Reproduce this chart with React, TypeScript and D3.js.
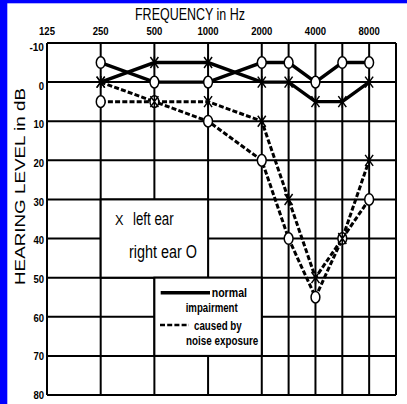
import React from 'react';
import * as d3 from 'd3';

const frequencies = [250, 500, 1000, 2000, 3000, 4000, 6000, 8000];
const leftNormal = [0, -5, -5, 0, 0, 5, 5, 0];
const rightNormal = [-5, 0, 0, -5, -5, 0, -5, -5];
const leftNoise = [0, 5, 5, 10, 30, 50, 40, 20];
const rightNoise = [5, 5, 10, 20, 40, 55, 40, 30];
const freqTickLabels = [125, 250, 500, 1000, 2000, 4000, 8000];
const gridFreqs = [125, 250, 500, 1000, 2000, 3000, 4000, 6000, 8000];
const dbTicks = [-10, 0, 10, 20, 30, 40, 50, 60, 70, 80];
const legendBoxes = [
  { f0: 250, f1: 1000, d0: 30, d1: 50 },
  { f0: 500, f1: 2000, d0: 50, d1: 70 },
];

const W = 407;
const H = 404;
const SANS = "'Liberation Sans', Arial, sans-serif";

const oct = (f: number) => Math.round(2 * Math.log2(f / 125)) / 2;
const numWidth = (s: string) => s.replace('-', '').length * 5.3 + (s.startsWith('-') ? 4 : 0);

export default function App() {
  const x = d3.scaleLinear().domain([0, 6.5]).range([47, 396]);
  const y = d3.scaleLinear().domain([-10, 80]).range([43, 395]);
  const yLab = d3.scaleLinear().domain([-10, 80]).range([47, 395]);

  const line = d3
    .line<[number, number]>()
    .x((d) => x(oct(d[0])))
    .y((d) => y(d[1]));

  const pts = (vals: number[]) => frequencies.map((f, i) => [f, vals[i]] as [number, number]);

  const series = [
    { vals: leftNormal, dashed: false, mark: 'x' },
    { vals: rightNormal, dashed: false, mark: 'o' },
    { vals: leftNoise, dashed: true, mark: 'x' },
    { vals: rightNoise, dashed: true, mark: 'o' },
  ];

  const xL = x(0);
  const xR = x(6.5);
  const yT = y(-10);
  const yB = y(80);

  return (
    <div style={{ position: 'fixed', left: 0, top: 0, width: W, height: H, background: '#fff' }}>
      <svg width={W} height={H} style={{ display: 'block' }}>
        <rect x={0} y={0} width={W} height={H} fill="#fff" />
        <rect x={0} y={0} width={W} height={3.3} fill="#0000ff" />
        <rect x={0} y={0} width={7.3} height={H} fill="#0000ff" />

        {/* grid */}
        <g stroke="#000" strokeWidth={2}>
          {dbTicks.map((d) => (
            <line key={'h' + d} x1={xL} x2={xR} y1={y(d)} y2={y(d)} />
          ))}
          {gridFreqs.map((f) => (
            <line key={'v' + f} x1={x(oct(f))} x2={x(oct(f))} y1={yT} y2={yB} />
          ))}
          <line x1={xR} x2={xR} y1={yT} y2={yB} />
        </g>

        {/* legend boxes */}
        {legendBoxes.map((b, i) => (
          <rect
            key={'b' + i}
            x={x(oct(b.f0))}
            y={y(b.d0)}
            width={x(oct(b.f1)) - x(oct(b.f0))}
            height={y(b.d1) - y(b.d0)}
            fill="#fff"
            stroke="#000"
            strokeWidth={2}
          />
        ))}

        {/* data lines */}
        {series.map((s, i) => (
          <path
            key={'l' + i}
            d={line(pts(s.vals)) || ''}
            fill="none"
            stroke="#000"
            strokeWidth={s.dashed ? 3 : 3.4}
            strokeDasharray={s.dashed ? '5,2.2' : undefined}
          />
        ))}

        {/* markers: circles first */}
        {series
          .filter((s) => s.mark === 'o')
          .map((s, i) =>
            pts(s.vals).map((p, j) => (
              <ellipse
                key={'o' + i + '-' + j}
                cx={x(oct(p[0]))}
                cy={y(p[1])}
                rx={4.4}
                ry={5.8}
                fill="#fff"
                stroke="#000"
                strokeWidth={1.5}
              />
            ))
          )}
        {series
          .filter((s) => s.mark === 'x')
          .map((s, i) =>
            pts(s.vals).map((p, j) => {
              const cx = x(oct(p[0]));
              const cy = y(p[1]);
              return (
                <path
                  key={'x' + i + '-' + j}
                  d={`M${cx - 4},${cy - 5.5}L${cx + 4},${cy + 5.5}M${cx - 4},${cy + 5.5}L${cx + 4},${cy - 5.5}M${cx},${cy - 6}L${cx},${cy + 6}`}
                  stroke="#000"
                  strokeWidth={1.5}
                  fill="none"
                />
              );
            })
          )}

        {/* axis labels */}
        <text x={135} y={19.5} fontFamily={SANS} fontSize={17} textLength={110} lengthAdjust="spacingAndGlyphs">
          FREQUENCY in Hz
        </text>
        {freqTickLabels.map((f) => (
          <text
            key={'ft' + f}
            x={x(oct(f)) - numWidth(String(f)) / 2}
            y={35}
            fontFamily={SANS}
            fontWeight="bold"
            fontSize={11.5}
            textLength={numWidth(String(f))}
            lengthAdjust="spacingAndGlyphs"
          >
            {f}
          </text>
        ))}
        {dbTicks.map((d) => (
          <text
            key={'dt' + d}
            x={44 - numWidth(String(d))}
            y={yLab(d)}
            dy="0.35em"
            fontFamily={SANS}
            fontWeight="bold"
            fontSize={11.5}
            textLength={numWidth(String(d))}
            lengthAdjust="spacingAndGlyphs"
          >
            {d}
          </text>
        ))}
        <text
          transform="translate(25,186.5) rotate(-90)"
          textAnchor="middle"
          fontFamily={SANS}
          fontSize={14}
          textLength={197}
          lengthAdjust="spacingAndGlyphs"
        >
          HEARING LEVEL in dB
        </text>

        {/* legend 1 */}
        <text x={115} y={225} fontFamily={SANS} fontSize={15} textLength={8.5} lengthAdjust="spacingAndGlyphs">X</text>
        <text x={133} y={225} fontFamily={SANS} fontSize={17.5} textLength={40.7} lengthAdjust="spacingAndGlyphs">left ear</text>
        <text x={129} y={258} fontFamily={SANS} fontSize={17.5} textLength={68} lengthAdjust="spacingAndGlyphs">right ear O</text>

        {/* legend 2 */}
        <line x1={160.7} x2={210} y1={292.7} y2={292.7} stroke="#000" strokeWidth={3.4} />
        <text x={211.7} y={296.5} fontFamily={SANS} fontWeight="bold" fontSize={12.5} textLength={35.3} lengthAdjust="spacingAndGlyphs">normal</text>
        <text x={185.7} y={312} fontFamily={SANS} fontWeight="bold" fontSize={12.5} textLength={52} lengthAdjust="spacingAndGlyphs">impairment</text>
        <line x1={160} x2={189} y1={325} y2={325} stroke="#000" strokeWidth={2.5} strokeDasharray="5,2.2" />
        <text x={194} y={330} fontFamily={SANS} fontWeight="bold" fontSize={12.5} textLength={47.7} lengthAdjust="spacingAndGlyphs">caused by</text>
        <text x={186} y={345} fontFamily={SANS} fontWeight="bold" fontSize={12.5} textLength={72.3} lengthAdjust="spacingAndGlyphs">noise exposure</text>
      </svg>
    </div>
  );
}
